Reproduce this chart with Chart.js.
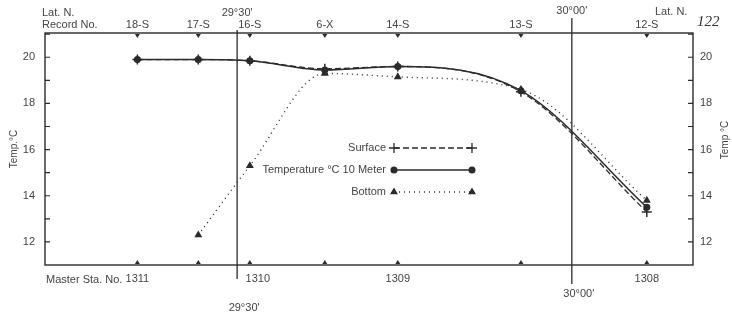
<!DOCTYPE html>
<html>
<head>
<meta charset="utf-8">
<script src="https://cdn.jsdelivr.net/npm/chart.js@4.4.0/dist/chart.umd.min.js"></script>
<style>
  html, body { margin: 0; padding: 0; background: #fff; }
  #wrap { width: 732px; height: 325px; position: relative; }
</style>
</head>
<body>
<div id="wrap"><canvas id="graficoTemp"></canvas></div>
<script>
// stations along the transect (latitude in decimal degrees N)
const stations = ['18-S', '17-S', '16-S', '6-X', '14-S', '13-S', '12-S'];
const latitude = [29.351, 29.442, 29.519, 29.631, 29.740, 29.924, 30.112];
const surface = [19.9, 19.9, 19.85, 19.5, 19.6, 18.5, 13.3];
const tenMeter = [19.9, 19.9, 19.85, 19.45, 19.6, 18.55, 13.5];
const bottom = [null, 12.3, 15.3, 19.3, 19.15, 18.6, 13.8];
const masterStations = ['1311', '1310', '1309', '1308'];
const masterLat = [29.351, 29.519, 29.740, 30.112];
const latLines = [29.5, 30.0];
const latLabels = ["29°30'", "30°00'"];
const tempTicks = [12, 14, 16, 18, 20];

const INK = '#2b2b2b';
const TEXT = '#444';
const FONT = '"Liberation Sans", Arial, sans-serif';

function toPoints(vals) {
  const pts = [];
  vals.forEach((v, i) => { if (v !== null) pts.push({ x: latitude[i], y: v }); });
  return pts;
}

function tri(ctx, x, y, s, up) {
  ctx.beginPath();
  if (up) { ctx.moveTo(x - s, y); ctx.lineTo(x + s, y); ctx.lineTo(x, y - s * 1.6); }
  else { ctx.moveTo(x - s, y); ctx.lineTo(x + s, y); ctx.lineTo(x, y + s * 1.6); }
  ctx.closePath();
  ctx.fill();
}

//dibuja marco, estaciones, latitudes y leyenda
const decorPlugin = {
  id: 'decor',
  afterDatasetsDraw(chart) {
    const { ctx, chartArea: a, scales: { x, y } } = chart;
    ctx.save();
    ctx.strokeStyle = INK;
    ctx.fillStyle = INK;
    ctx.lineWidth = 1.4;
    ctx.strokeRect(a.left, a.top, a.right - a.left, a.bottom - a.top);

    // temperature ticks, inside on both sides
    ctx.lineWidth = 1.2;
    for (let t = 12; t <= 21; t++) {
      const py = y.getPixelForValue(t);
      ctx.beginPath();
      ctx.moveTo(a.left, py); ctx.lineTo(a.left + 5, py);
      ctx.moveTo(a.right - 5, py); ctx.lineTo(a.right, py);
      ctx.stroke();
    }

    // latitude lines
    const ext = [[3, 14], [15, 19]];
    ctx.lineWidth = 1.3;
    latLines.forEach((v, i) => {
      const px = x.getPixelForValue(v);
      ctx.beginPath();
      ctx.moveTo(px, a.top - ext[i][0]);
      ctx.lineTo(px, a.bottom + ext[i][1]);
      ctx.stroke();
    });

    // station triangles top and bottom
    latitude.forEach(v => {
      const px = x.getPixelForValue(v);
      tri(ctx, px, a.top + 1, 2.5, false);
      tri(ctx, px, a.bottom - 1, 2.5, true);
    });

    ctx.fillStyle = TEXT;
    ctx.font = '11px ' + FONT;
    ctx.textBaseline = 'middle';

    ctx.textAlign = 'left';
    ctx.fillText('Lat. N.', 42, 13);
    ctx.fillText('Record No.', 42, 25);
    ctx.fillText('Lat. N.', 655, 12);

    ctx.textAlign = 'center';
    stations.forEach((s, i) => {
      ctx.fillText(s, x.getPixelForValue(latitude[i]), 25);
    });
    const topY = [13, 11];
    const botY = [308, 294];
    latLines.forEach((v, i) => {
      const px = x.getPixelForValue(v);
      ctx.fillText(latLabels[i], px, topY[i]);
      ctx.fillText(latLabels[i], px + 7, botY[i]);
    });

    masterStations.forEach((s, i) => {
      const px = x.getPixelForValue(masterLat[i]) + (i === 1 ? 8 : 0);
      ctx.fillText(s, px, 279);
    });
    ctx.textAlign = 'right';
    ctx.fillText('Master Sta. No.', x.getPixelForValue(masterLat[0]) - 15, 280);

    // right axis title
    ctx.save();
    ctx.translate(725, 140);
    ctx.rotate(-Math.PI / 2);
    ctx.textAlign = 'center';
    ctx.font = '10px ' + FONT;
    ctx.fillText('Temp °C', 0, 0);
    ctx.restore();

    // page number
    ctx.font = 'italic 15px "Liberation Serif", serif';
    ctx.textAlign = 'left';
    ctx.fillStyle = '#333';
    ctx.fillText('122', 697, 22);

    // legend inside plot
    const rows = [148, 170, 192];
    chart.data.datasets.forEach((ds, i) => {
      const ly = rows[i];
      ctx.fillStyle = TEXT;
      ctx.font = '11px ' + FONT;
      ctx.textAlign = 'right';
      ctx.fillText(ds.label, 386, ly);
      ctx.strokeStyle = INK;
      ctx.lineWidth = ds.borderWidth;
      ctx.setLineDash(ds.borderDash || []);
      ctx.beginPath(); ctx.moveTo(394, ly); ctx.lineTo(472, ly); ctx.stroke();
      ctx.setLineDash([]);
      ctx.fillStyle = INK;
      [394, 472].forEach(px => {
        Chart.helpers.drawPoint(ctx, {
          pointStyle: ds.pointStyle, radius: ds.pointRadius, borderWidth: 1.3
        }, px, ly);
      });
    });
    ctx.restore();
  }
};

const ctx = document.getElementById('graficoTemp').getContext('2d');
new Chart(ctx, {
  type: 'line',
  data: {
    datasets: [
      {
        label: 'Surface',
        data: toPoints(surface),
        borderColor: INK,
        backgroundColor: INK,
        borderWidth: 1.3,
        borderDash: [6, 3],
        pointStyle: 'cross',
        pointRadius: 5,
        pointBorderWidth: 1.5,
        cubicInterpolationMode: 'monotone'
      },
      {
        label: 'Temperature °C 10 Meter',
        data: toPoints(tenMeter),
        borderColor: INK,
        backgroundColor: INK,
        borderWidth: 1.5,
        pointStyle: 'circle',
        pointRadius: 2.8,
        cubicInterpolationMode: 'monotone'
      },
      {
        label: 'Bottom',
        data: toPoints(bottom),
        borderColor: INK,
        backgroundColor: INK,
        borderWidth: 1.4,
        borderDash: [1, 4],
        pointStyle: 'triangle',
        pointRadius: 3.2,
        cubicInterpolationMode: 'monotone'
      }
    ]
  },
  options: {
    responsive: true,
    maintainAspectRatio: false,
    animation: false,
    layout: { padding: { top: 33, bottom: 60, left: 0, right: 0 } },
    plugins: {
      legend: { display: false },
      tooltip: { enabled: false }
    },
    scales: {
      x: {
        type: 'linear',
        min: 29.213,
        max: 30.181,
        display: false
      },
      y: {
        position: 'left',
        min: 11,
        max: 21.05,
        afterBuildTicks: axis => { axis.ticks = tempTicks.map(v => ({ value: v })); },
        afterFit: axis => { axis.width = 45; },
        grid: { drawOnChartArea: false, drawTicks: false },
        border: { display: false },
        ticks: { padding: 10, color: TEXT, font: { family: FONT, size: 11 } },
        title: { display: true, text: 'Temp.°C', color: TEXT, font: { family: FONT, size: 10 }, padding: { top: 8 } }
      },
      y2: {
        position: 'right',
        display: true,
        min: 11,
        max: 21.05,
        afterBuildTicks: axis => { axis.ticks = tempTicks.map(v => ({ value: v })); },
        afterFit: axis => { axis.width = 39; },
        grid: { drawOnChartArea: false, drawTicks: false },
        border: { display: false },
        ticks: { padding: 7, color: TEXT, font: { family: FONT, size: 11 } }
      }
    }
  },
  plugins: [decorPlugin]
});
</script>
</body>
</html>
